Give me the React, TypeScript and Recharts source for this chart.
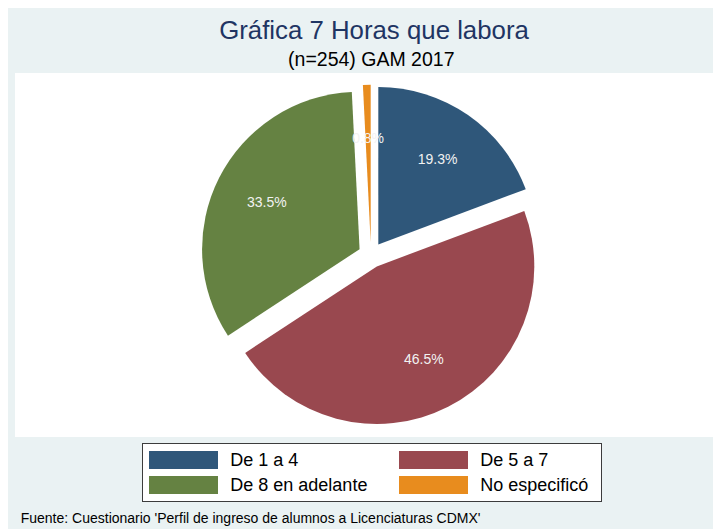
import { PieChart, Pie, Cell, Legend, Sector } from "recharts";

// Horas que labora (n=254)
const categories = ["De 1 a 4", "De 5 a 7", "De 8 en adelante", "No especificó"];
const counts = [49, 118, 85, 2];
const colors = ["#2F577A", "#99484F", "#658242", "#E88C1E"];

const data = categories.map((name, i) => ({ name, value: counts[i] }));

const RAD = Math.PI / 180;
const EXPLODE = 12.8;
const LABEL_R = 104;
const FONT = "Arial, 'Liberation Sans', Helvetica, sans-serif";

const offset = (mid: number, r: number) => ({
    dx: r * Math.cos(-mid * RAD),
    dy: r * Math.sin(-mid * RAD),
});

const renderSlice = (props: any) => {
    const { dx, dy } = offset(props.midAngle, EXPLODE);
    return <Sector {...props} cx={props.cx + dx} cy={props.cy + dy} stroke="none" />;
};

const renderLabel = (props: any) => {
    const { cx, cy, midAngle, percent } = props;
    const { dx, dy } = offset(midAngle, EXPLODE + LABEL_R);
    return (
        <text
            x={cx + dx}
            y={cy + dy}
            fill="#F2F2F2"
            fontSize={14}
            fontFamily={FONT}
            textAnchor="middle"
            dominantBaseline="central"
        >
            {(percent * 100).toFixed(1)}%
        </text>
    );
};

const renderLegend = (props: any) => {
    const payload = props.payload || [];
    return (
        <div
            style={{
                position: "relative",
                width: 460,
                height: 59,
                boxSizing: "border-box",
                border: "1px solid #3C3C3C",
                background: "#fff",
                fontFamily: FONT,
            }}
        >
            {payload.map((p: any, i: number) => {
                const col = i % 2;
                const row = Math.floor(i / 2);
                return (
                    <div
                        key={`leg-${i}`}
                        style={{
                            position: "absolute",
                            left: 6.6 + col * 250,
                            top: 6.7 + row * 25,
                            height: 18.5,
                            display: "flex",
                            alignItems: "center",
                            whiteSpace: "nowrap",
                        }}
                    >
                        <span style={{ display: "inline-block", width: 69, height: 18.5, background: p.color }} />
                        <span style={{ marginLeft: 12, fontSize: 18, color: "#000", lineHeight: "18px" }}>{p.value}</span>
                    </div>
                );
            })}
        </div>
    );
};

export default function App() {
    return (
        <div style={{ position: "relative", width: 713, height: 521, background: "#EAF2F3" }}>
            <div style={{ position: "absolute", left: 7, top: 65, width: 706, height: 364, background: "#fff" }} />
            <PieChart width={713} height={521} margin={{ top: 0, right: 0, bottom: 0, left: 0 }}>
                <text x={366} y={31.3} textAnchor="middle" fontSize={25.8} fontFamily={FONT} fill="#1F3563">
                    Gráfica 7 Horas que labora
                </text>
                <text x={363.3} y={58.3} textAnchor="middle" fontSize={19.5} fontFamily={FONT} fill="#000">
                    (n=254) GAM 2017
                </text>
                <text x={12.7} y={515.3} fontSize={14} fontFamily={FONT} fill="#000">
                    Fuente: Cuestionario 'Perfil de ingreso de alumnos a Licenciaturas CDMX'
                </text>
                <Pie
                    data={data}
                    dataKey="value"
                    nameKey="name"
                    cx={363}
                    cy={247}
                    outerRadius={157.5}
                    startAngle={90}
                    endAngle={-270}
                    stroke="none"
                    shape={renderSlice}
                    activeShape={renderSlice}
                    label={renderLabel}
                    labelLine={false}
                    isAnimationActive={false}
                >
                    {data.map((entry, index) => (
                        <Cell key={`cell-${index}`} fill={colors[index]} />
                    ))}
                </Pie>
                <Legend
                    content={renderLegend}
                    wrapperStyle={{ left: 133.7, top: 435.3, width: 460, height: 59, bottom: "auto" }}
                />
            </PieChart>
        </div>
    );
}
